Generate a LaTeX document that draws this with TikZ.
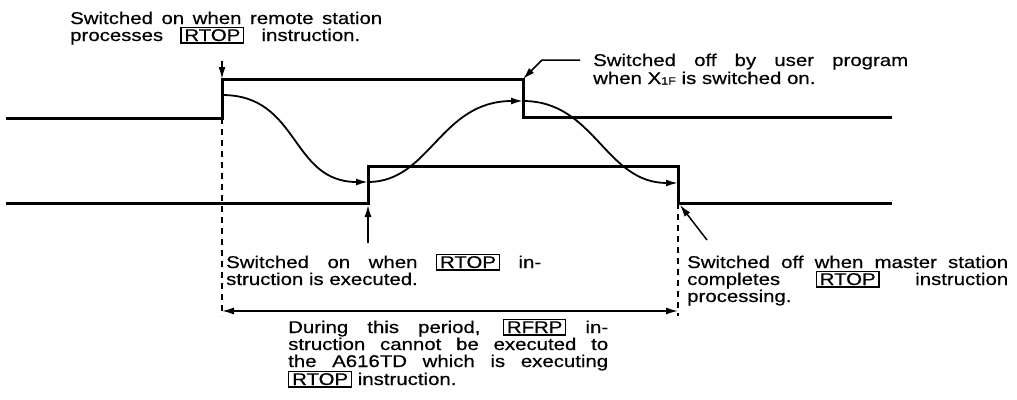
\documentclass[tikz,border=0pt]{standalone}
\usepackage{fontspec}
\setmainfont{Liberation Sans}[FakeStretch=1.2,FakeBold=0.5]
\usetikzlibrary{arrows.meta}
\newcommand{\bx}[1]{{\setlength{\fboxsep}{1.3pt}\setlength{\fboxrule}{1.2pt}\fbox{\hspace{1.5pt}#1\hspace{1.5pt}}}}
\newcommand{\jl}[2]{\makebox[#1][s]{#2}}
\begin{document}
\begin{tikzpicture}[x=1pt,y=-1pt,
  sig/.style={line width=3pt},
  crv/.style={line width=1.8pt,-{Latex[length=12pt,width=7pt]}},
  arr/.style={line width=1.5pt,-{Latex[length=12pt,width=7pt]}},
  dimarr/.style={line width=1.5pt,{Latex[length=12pt,width=7pt]}-{Latex[length=12pt,width=7pt]}},
  dsh/.style={line width=1.4pt,dash pattern=on 6pt off 5pt},
  txt/.style={anchor=base west,inner sep=0pt,font=\fontsize{17}{18}\selectfont}]
\useasboundingbox (0,0) rectangle (1017,399);
% upper signal
\coordinate (u0) at (6,118);
\coordinate (u1) at (222,118);
\coordinate (u2) at (222,79);
\coordinate (u3) at (523,79);
\coordinate (u4) at (523,117);
\coordinate (u5) at (892,117);
\draw[sig] (u0) -- (u1) -- (u2) -- (u3) -- (u4) -- (u5);
% lower signal
\coordinate (l0) at (6,203);
\coordinate (l1) at (368,203);
\coordinate (l2) at (368,166);
\coordinate (l3) at (678,166);
\coordinate (l4) at (678,203);
\coordinate (l5) at (892,203);
\draw[sig] (l0) -- (l1) -- (l2) -- (l3) -- (l4) -- (l5);
% curves
\coordinate (c0) at (222,95);
\coordinate (c1) at (368,182);
\coordinate (c2) at (523,101);
\coordinate (c3) at (678,183);
\draw[crv] (c0) .. controls (300,95) and (290,182) .. (c1);
\draw[crv] (c1) .. controls (430,182) and (440,101) .. (c2);
\draw[crv] (c2) .. controls (595,101) and (605,183) .. (c3);
% dashed lines
\coordinate (d1) at (222,316);
\coordinate (d2) at (678,316);
\draw[dsh] (u1) -- (d1);
\draw[dsh] (l4) -- (d2);
% dimension arrow
\coordinate (m1) at (222,311);
\coordinate (m2) at (678,311);
\draw[dimarr] (m1) -- (m2);
% texts
\node[txt] (t1a) at (70,24) {\jl{312pt}{Switched on when remote station}};
\node[txt] (t1b) at (70,41) {\jl{290pt}{processes \bx{RTOP} instruction.}};
\node[txt] (t2a) at (593,66) {\jl{315pt}{Switched off by user program}};
\node[txt] (t2b) at (593,84) {when X\raisebox{-0.5pt}{\fontsize{10.5}{11}\selectfont 1F} is switched on.};
\node[txt] (t3a) at (226,268) {\jl{315pt}{Switched on when \bx{RTOP} in-}};
\node[txt] (t3b) at (226,285) {struction is executed.};
\node[txt] (t4a) at (687,268) {\jl{321pt}{Switched off when master station}};
\node[txt] (t4b) at (687,285) {\jl{321pt}{completes \bx{RTOP} instruction}};
\node[txt] (t4c) at (687,302) {processing.};
\node[txt] (t5a) at (288,333) {\jl{320pt}{During this period, \bx{RFRP} in-}};
\node[txt] (t5b) at (288,350) {\jl{320pt}{struction cannot be executed to}};
\node[txt] (t5c) at (288,367) {\jl{320pt}{the A616TD which is executing}};
\node[txt] (t5d) at (288,385) {\bx{RTOP} instruction.};
% pointer arrows
\coordinate (p1) at (222,61);
\draw[arr] (p1) -- (u2);
\coordinate (p2a) at (580,60);
\coordinate (p2b) at (542,60);
\draw[arr] (p2a) -- (p2b) -- (u3);
\coordinate (p3) at (368,243);
\coordinate (p3e) at (368,205);
\draw[arr] (p3) -- (p3e);
\coordinate (p4) at (707,240);
\coordinate (p4e) at (680,205);
\draw[arr] (p4) -- (p4e);
\end{tikzpicture}
\end{document}
